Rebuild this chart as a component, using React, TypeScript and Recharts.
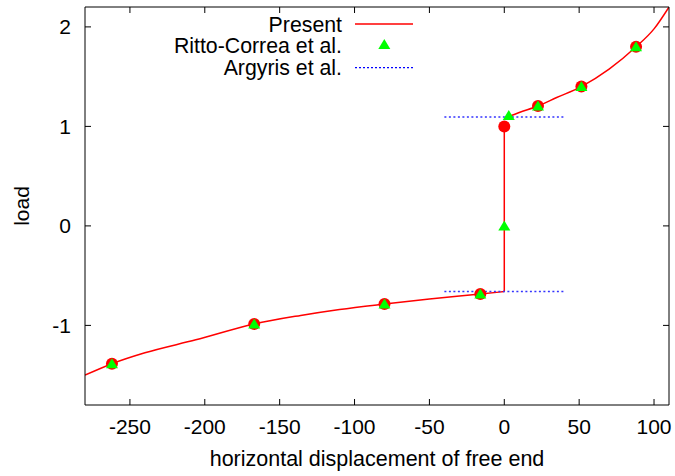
import React from 'react';
import { ComposedChart, Line, Scatter, XAxis, YAxis, Legend } from 'recharts';

const FONT = '"Liberation Sans", Arial, Helvetica, sans-serif';

const xTicks = [-250, -200, -150, -100, -50, 0, 50, 100];
const yTicks = [-1, 0, 1, 2];

// Present (continuous curve)
const presentLowerX = [-280, -262, -240, -206, -167, -136, -110, -80, -50, -16, 0];
const presentLowerY = [-1.5, -1.385, -1.275, -1.145, -0.985, -0.9, -0.84, -0.785, -0.735, -0.685, -0.66];
const presentJumpX = [0, 0];
const presentJumpY = [-0.66, 1.0];
const presentUpperX = [3, 10, 22.5, 35, 51.5, 70, 88, 100, 110];
const presentUpperY = [1.1, 1.14, 1.205, 1.29, 1.4, 1.575, 1.8, 1.98, 2.2];

// Present (markers)
const presentDotsX = [-262, -167, -80, -16, 0, 22.5, 51.5, 88];
const presentDotsY = [-1.385, -0.985, -0.785, -0.685, 1.0, 1.205, 1.4, 1.8];

// Ritto-Correa et al.
const rittoX = [-262, -167, -80, -16, 0, 3, 22.5, 51.5, 88];
const rittoY = [-1.385, -0.985, -0.785, -0.685, 0, 1.11, 1.205, 1.4, 1.8];

// Argyris et al.
const argyrisUpperX = [-40, 40];
const argyrisUpperY = [1.095, 1.095];
const argyrisLowerX = [-40, 40];
const argyrisLowerY = [-0.66, -0.66];

const pts = (xs: number[], ys: number[]) => xs.map((x, i) => ({ x, y: ys[i] }));

const presentLower = pts(presentLowerX, presentLowerY);
const presentJump = pts(presentJumpX, presentJumpY);
const presentUpper = pts(presentUpperX, presentUpperY);
const presentDots = pts(presentDotsX, presentDotsY);
const ritto = pts(rittoX, rittoY);
const argyrisUpper = pts(argyrisUpperX, argyrisUpperY);
const argyrisLower = pts(argyrisLowerX, argyrisLowerY);

const FS = 21;
const TL = 6;

const BottomTick = (props: any) => {
  const { x, y, payload } = props;
  return (
    <g>
      <line x1={x} y1={y} x2={x} y2={y - TL} stroke="#000" strokeWidth={1} />
      <text x={x} y={y + 29} textAnchor="middle" fontSize={FS} fontFamily={FONT} fill="#000">
        {payload.value}
      </text>
    </g>
  );
};

const TopTick = (props: any) => {
  const { x, y } = props;
  return <line x1={x} y1={y} x2={x} y2={y + TL} stroke="#000" strokeWidth={1} />;
};

const LeftTick = (props: any) => {
  const { x, y, payload } = props;
  return (
    <g>
      <line x1={x} y1={y} x2={x + TL} y2={y} stroke="#000" strokeWidth={1} />
      <text x={x - 14} y={y + 7.5} textAnchor="end" fontSize={FS} fontFamily={FONT} fill="#000">
        {payload.value}
      </text>
    </g>
  );
};

const RightTick = (props: any) => {
  const { x, y } = props;
  return <line x1={x} y1={y} x2={x - TL} y2={y} stroke="#000" strokeWidth={1} />;
};

const Circle = (props: any) => {
  const { cx, cy } = props;
  return <circle cx={cx} cy={cy} r={6} fill="#ff0000" />;
};

const Triangle = (props: any) => {
  const { cx, cy } = props;
  return (
    <polygon
      points={`${cx},${cy - 5.5} ${cx - 6},${cy + 4.5} ${cx + 6},${cy + 4.5}`}
      fill="#00ff00"
    />
  );
};

const XLabel = (props: any) => {
  const vb = props.viewBox;
  return (
    <text x={vb.x + vb.width / 2} y={vb.y + 61} textAnchor="middle" fontSize={21.5} fontFamily={FONT} fill="#000">
      horizontal displacement of free end
    </text>
  );
};

const YLabel = (props: any) => {
  const vb = props.viewBox;
  const cx = 28.5;
  const cy = vb.y + vb.height / 2;
  return (
    <text
      x={cx}
      y={cy}
      textAnchor="middle"
      transform={`rotate(-90, ${cx}, ${cy})`}
      fontSize={FS}
      fontFamily={FONT}
      fill="#000"
    >
      load
    </text>
  );
};

const LegendContent = () => (
  <svg width={675} height={85} style={{ display: 'block', overflow: 'visible' }}>
    <g fontSize={21.3} fontFamily={FONT} fill="#000">
      <text x={342} y={31.7} textAnchor="end">Present</text>
      <text x={342} y={53.4} textAnchor="end">Ritto-Correa et al.</text>
      <text x={342} y={75.1} textAnchor="end">Argyris et al.</text>
    </g>
    <line x1={355} x2={413} y1={24} y2={24} stroke="#ff0000" strokeWidth={1.5} />
    <polygon points="384.3,39 378.3,49 390.3,49" fill="#00ff00" />
    <line x1={355} x2={413} y1={67.7} y2={67.7} stroke="#0000ff" strokeWidth={1.2} strokeDasharray="2 2" />
  </svg>
);

export default function App() {
  return (
    <div style={{ position: 'absolute', left: 0, top: 0, width: 675, height: 476, background: '#fff' }}>
      <ComposedChart width={675} height={476} margin={{ top: 0, right: 0, bottom: 0, left: 0 }}>
        <XAxis
          xAxisId="b"
          dataKey="x"
          type="number"
          domain={[-280, 110]}
          ticks={xTicks}
          allowDataOverflow
          height={71}
          orientation="bottom"
          axisLine={{ stroke: '#000', strokeWidth: 1 }}
          tickLine={false}
          tickSize={0}
          tickMargin={0}
          tick={BottomTick}
          interval={0}
          label={<XLabel />}
        />
        <XAxis
          xAxisId="t"
          dataKey="x"
          type="number"
          domain={[-280, 110]}
          ticks={xTicks}
          allowDataOverflow
          height={7}
          orientation="top"
          axisLine={{ stroke: '#000', strokeWidth: 1 }}
          tickLine={false}
          tickSize={0}
          tickMargin={0}
          tick={TopTick}
          interval={0}
        />
        <YAxis
          yAxisId="l"
          dataKey="y"
          type="number"
          domain={[-1.8, 2.2]}
          ticks={yTicks}
          allowDataOverflow
          width={85}
          orientation="left"
          axisLine={{ stroke: '#000', strokeWidth: 1 }}
          tickLine={false}
          tickSize={0}
          tickMargin={0}
          tick={LeftTick}
          interval={0}
          label={<YLabel />}
        />
        <YAxis
          yAxisId="r"
          dataKey="y"
          type="number"
          domain={[-1.8, 2.2]}
          ticks={yTicks}
          allowDataOverflow
          width={6}
          orientation="right"
          axisLine={{ stroke: '#000', strokeWidth: 1 }}
          tickLine={false}
          tickSize={0}
          tickMargin={0}
          tick={RightTick}
          interval={0}
        />
        <Legend
          layout="vertical"
          align="center"
          verticalAlign="middle"
          content={<LegendContent />}
          wrapperStyle={{ top: 0, left: 0, width: 675, height: 85 }}
        />
        <Line xAxisId="b" yAxisId="l" data={presentLower} dataKey="y" type="monotone" stroke="#ff0000" strokeWidth={1.5} dot={false} activeDot={false} isAnimationActive={false} name="Present" />
        <Line xAxisId="b" yAxisId="l" data={presentJump} dataKey="y" type="linear" stroke="#ff0000" strokeWidth={1.5} dot={false} activeDot={false} isAnimationActive={false} legendType="none" />
        <Line xAxisId="b" yAxisId="l" data={presentUpper} dataKey="y" type="monotone" stroke="#ff0000" strokeWidth={1.5} dot={false} activeDot={false} isAnimationActive={false} legendType="none" />
        <Scatter xAxisId="b" yAxisId="l" data={presentDots} dataKey="y" shape={<Circle />} isAnimationActive={false} legendType="none" />
        <Scatter xAxisId="b" yAxisId="l" data={ritto} dataKey="y" shape={<Triangle />} isAnimationActive={false} name="Ritto-Correa et al." />
        <Line xAxisId="b" yAxisId="l" data={argyrisUpper} dataKey="y" type="linear" stroke="#3333ff" strokeWidth={1.5} strokeDasharray="2 2.5" dot={false} activeDot={false} isAnimationActive={false} name="Argyris et al." />
        <Line xAxisId="b" yAxisId="l" data={argyrisLower} dataKey="y" type="linear" stroke="#3333ff" strokeWidth={1.5} strokeDasharray="2 2.5" dot={false} activeDot={false} isAnimationActive={false} legendType="none" />
      </ComposedChart>
    </div>
  );
}
